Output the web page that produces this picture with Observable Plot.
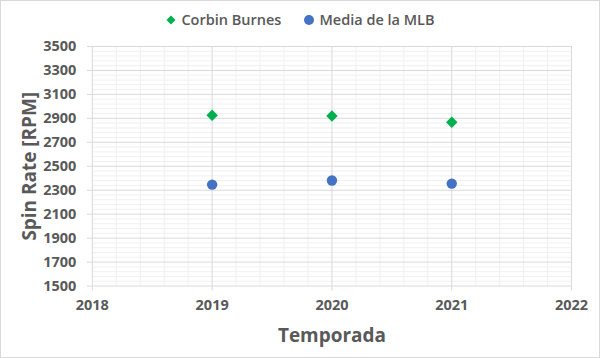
<!DOCTYPE html>
<html>
<head>
<meta charset="utf-8">
<script src="https://cdn.jsdelivr.net/npm/d3@7"></script>
<script src="https://cdn.jsdelivr.net/npm/@observablehq/plot@0.6"></script>
<style>
  html, body { margin: 0; padding: 0; background: #fff; }
  #wrap { position: relative; width: 600px; height: 358px; box-sizing: border-box; border: 1px solid #d9d9d9; background: #fff; font-family: "Open Sans", sans-serif; color: #595959; overflow: hidden; }
  #legend { position: absolute; left: 0; top: 0; width: 598px; height: 37px; display: flex; justify-content: center; align-items: center; gap: 22px; font-size: 14.5px; font-weight: 600; z-index: 2; }
  .item { display: flex; align-items: center; gap: 4px; }
  #chart { position: absolute; left: -1px; top: 17px; }
</style>
</head>
<body>
<div id="wrap">
  <div id="legend"></div>
  <div id="chart"></div>
</div>
<script>
const seasons = [2019, 2020, 2021];
const burnes = [2925, 2920, 2867];
const mlb = [2347, 2381, 2355];
const seriesNames = ["Corbin Burnes", "Media de la MLB"];
const seriesColors = ["#00b050", "#4472c4"];
const yTicks = [1500, 1700, 1900, 2100, 2300, 2500, 2700, 2900, 3100, 3300, 3500];
const xTicks = [2018, 2019, 2020, 2021, 2022];

// legend
const legend = document.getElementById("legend");
seriesNames.forEach((name, i) => {
  const it = document.createElement("div");
  it.className = "item";
  const sym = i === 0
    ? `<svg width="12" height="12"><path d="M6,1.5L10.5,6L6,10.5L1.5,6Z" fill="${seriesColors[i]}"/></svg>`
    : `<svg width="12" height="12"><circle cx="6" cy="6" r="5" fill="${seriesColors[i]}"/></svg>`;
  it.innerHTML = sym + `<span>${name}</span>`;
  legend.appendChild(it);
});

const rows = [];
seasons.forEach((s, i) => {
  rows.push({season: s, value: burnes[i], series: seriesNames[0]});
  rows.push({season: s, value: mlb[i], series: seriesNames[1]});
});

const minorX = d3.range(2018, 2022.001, 0.2).filter(v => Math.abs(v - Math.round(v)) > 1e-6);
const minorY = d3.range(1500, 3500.001, 40).filter(v => (v - 1500) % 200 !== 0);

const chart = Plot.plot({
  width: 600,
  height: 340,
  marginLeft: 92,
  marginRight: 28,
  marginTop: 28,
  marginBottom: 72,
  style: {fontFamily: "Open Sans, sans-serif", fontSize: "14px", fontWeight: "700", color: "#595959", background: "transparent"},
  x: {domain: [2018, 2022], ticks: xTicks, tickFormat: d => String(d), label: null},
  y: {domain: [1500, 3500], ticks: yTicks, tickFormat: d => String(d), label: null},
  marks: [
    Plot.ruleX(minorX, {stroke: "#f0f0f0", strokeWidth: 1}),
    Plot.ruleY(minorY, {stroke: "#f0f0f0", strokeWidth: 1}),
    Plot.ruleX(xTicks, {stroke: "#d9d9d9", strokeWidth: 1}),
    Plot.ruleY(yTicks, {stroke: "#d9d9d9", strokeWidth: 1}),
    Plot.axisY({ticks: yTicks, tickSize: 5, tickPadding: 11, stroke: "#d9d9d9", fill: "#595959", fontSize: 14.5, tickFormat: d => String(d),
      label: "Spin Rate [RPM]", labelAnchor: "center", labelArrow: "none", labelOffset: 70}),
    Plot.axisX({ticks: xTicks, tickSize: 5, tickPadding: 9, stroke: "#d9d9d9", fill: "#595959", fontSize: 14.5, tickFormat: d => String(d),
      label: "Temporada", labelAnchor: "center", labelArrow: "none", labelOffset: 56}),
    Plot.dot(rows.filter(d => d.series === seriesNames[0]), {x: "season", y: "value", symbol: "diamond2", r: 5.2, fill: seriesColors[0], stroke: "none"}),
    Plot.dot(rows.filter(d => d.series === seriesNames[1]), {x: "season", y: "value", symbol: "circle", r: 5.2, fill: seriesColors[1], stroke: "none"})
  ]
});
document.getElementById("chart").appendChild(chart);
// enlarge axis titles
chart.querySelectorAll("[aria-label='y-axis label'] text, [aria-label='x-axis label'] text").forEach(t => {
  t.setAttribute("font-size", "19");
  t.setAttribute("font-weight", "700");
});
</script>
</body>
</html>
